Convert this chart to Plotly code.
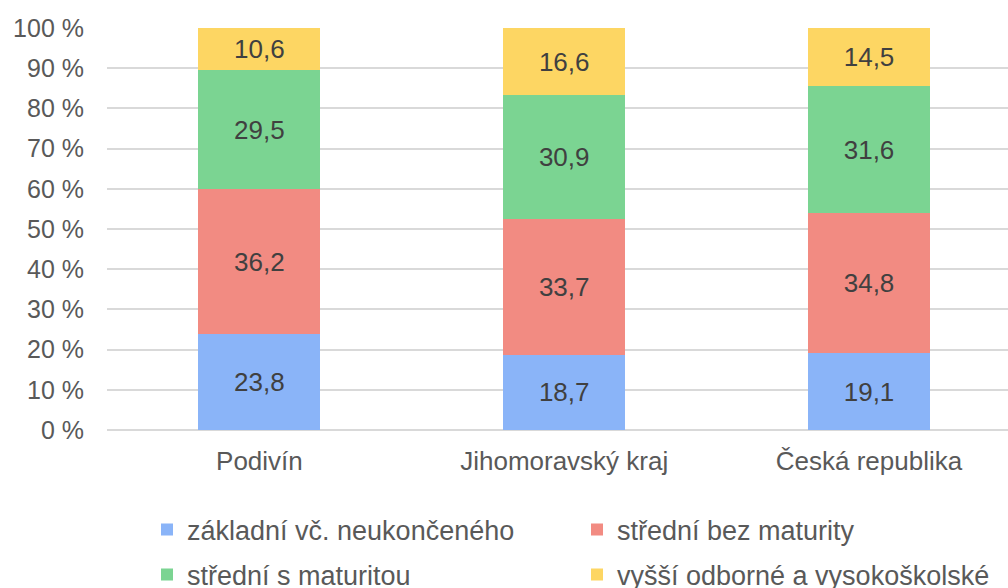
import plotly.graph_objects as go

categories = ["Podivín", "Jihomoravský kraj", "Česká republika"]
series_names = ["základní vč. neukončeného", "střední bez maturity",
                "střední s maturitou", "vyšší odborné a vysokoškolské"]
zakladni = [23.8, 18.7, 19.1]
stredni_bez = [36.2, 33.7, 34.8]
stredni_s = [29.5, 30.9, 31.6]
vyssi = [10.6, 16.6, 14.5]
y_ticks = [0, 10, 20, 30, 40, 50, 60, 70, 80, 90, 100]
y_tick_text = [f"{v} %" for v in y_ticks]

colors = ["#8ab4f8", "#f28b82", "#7bd492", "#fdd663"]
values = [zakladni, stredni_bez, stredni_s, vyssi]
legend_ids = ["legend", "legend2", "legend3", "legend4"]

FONT = "Liberation Sans, Arial, sans-serif"
FS = 26
TXT = "#595959"

fig = go.Figure()
for name, vals, col, lg in zip(series_names, values, colors, legend_ids):
    fig.add_trace(go.Bar(
        x=categories, y=vals, name=name, legend=lg,
        marker=dict(color=col, line=dict(width=0)),
        width=0.4,
        texttemplate="%{y:.1f}", textposition="inside",
        insidetextanchor="middle", textangle=0, constraintext="none",
        textfont=dict(family=FONT, size=FS, color="#404040"),
    ))

# legend positions in paper coords (x: 0 = plot left at 107px, plot width 901px;
# y: 0 = plot bottom at 430px, plot height 402px)
def lx(px):
    return (px - 107) / 901

def ly(py):
    return (430 - py) / 402

leg_common = dict(orientation="h", xanchor="left", yanchor="middle",
                  font=dict(family=FONT, size=27, color=TXT),
                  itemclick=False, bgcolor="rgba(0,0,0,0)")
fig.update_layout(
    barmode="stack",
    separators=", ",
    width=1008, height=588,
    margin=dict(l=107, r=0, t=28, b=158, autoexpand=False),
    plot_bgcolor="white", paper_bgcolor="white",
    font=dict(family=FONT, size=FS, color=TXT),
    showlegend=True,
    legend=dict(x=lx(147), y=ly(530), **leg_common),
    legend2=dict(x=lx(577), y=ly(530), **leg_common),
    legend3=dict(x=lx(147), y=ly(575), **leg_common),
    legend4=dict(x=lx(577), y=ly(575), **leg_common),
)
fig.update_xaxes(range=[-0.5, 2.456], showgrid=False, showline=False, ticks="",
                 tickfont=dict(family=FONT, size=FS, color=TXT),
                 ticklabelstandoff=13, fixedrange=True)
fig.update_yaxes(range=[0, 100], tickmode="array", tickvals=y_ticks, ticktext=y_tick_text,
                 showgrid=True, gridcolor="#d9d9d9", gridwidth=1.5,
                 zeroline=True, zerolinecolor="#d9d9d9", zerolinewidth=1.5,
                 showline=False, ticks="", ticklabelstandoff=22,
                 tickfont=dict(family=FONT, size=25, color=TXT), fixedrange=True)

fig.write_html("out.html", config={"displayModeBar": False},
               post_script="document.body.style.margin='0';")
